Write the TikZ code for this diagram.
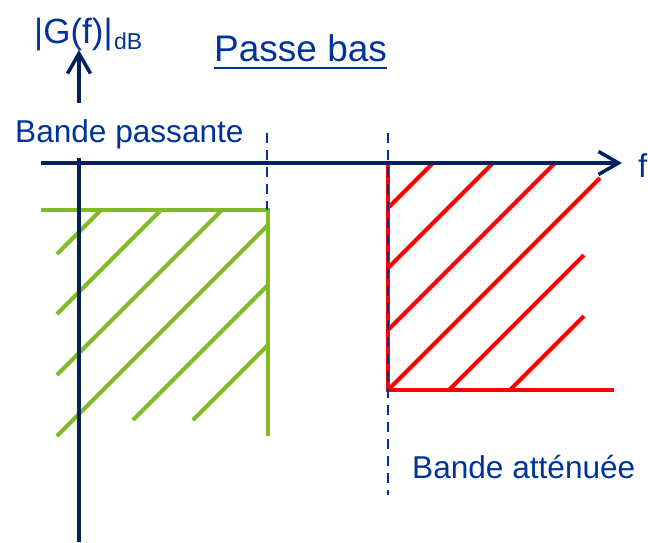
\documentclass[tikz,border=0pt]{standalone}
\usepackage{fontspec}
\setmainfont{Liberation Sans}
\usetikzlibrary{arrows.meta}
\definecolor{axisblue}{RGB}{0,32,96}
\definecolor{txtblue}{RGB}{0,51,153}
\definecolor{dashblue}{RGB}{0,51,153}
\definecolor{hgreen}{RGB}{128,186,38}
\definecolor{hred}{RGB}{255,0,0}
\begin{document}
\begin{tikzpicture}[x=1pt,y=-1pt,
  axisline/.style={draw=axisblue,line width=3.5pt},
  barb/.style={-{Straight Barb[length=20pt,width=23pt]}},
  greenline/.style={draw=hgreen,line width=4pt},
  redline/.style={draw=hred,line width=4pt},
  limline/.style={draw=dashblue,line width=2.5pt,dash pattern=on 10pt off 7pt},
  lbl/.style={text=txtblue,inner sep=0pt,anchor=base west,font=\fontsize{31.6}{38}\selectfont}]
\useasboundingbox (0,0) rectangle (648,542);
% green template (pass band)
\coordinate (g0) at (41,210);
\coordinate (g1) at (268,210);
\coordinate (g2) at (268,436);
\draw[greenline] (g0) -- (g1) -- (g2);
\draw[greenline] (57,254) -- (101,210);
\draw[greenline] (57,314) -- (161,210);
\draw[greenline] (57,375) -- (222,210);
\draw[greenline] (57,436) -- (268,225);
\draw[greenline] (133,420) -- (268,285);
\draw[greenline] (193,420) -- (268,345);
% red template (stop band)
\coordinate (r0) at (388,163);
\coordinate (r1) at (388,390);
\coordinate (r2) at (614,390);
\draw[redline] (r0) -- (r1) -- (r2);
\draw[redline] (388,208) -- (433,163);
\draw[redline] (388,268) -- (493,163);
\draw[redline] (388,330) -- (555,163);
\draw[redline] (388,390) -- (600,178);
\draw[redline] (449,390) -- (584,255);
\draw[redline] (510,390) -- (584,316);
% axes
\coordinate (ybot) at (79,542);
\coordinate (ytop) at (79,50);
\coordinate (xl) at (41,163);
\coordinate (xr) at (622,163);
\draw[axisline,barb] (ybot) -- (ytop);
\draw[axisline,barb] (xl) -- (xr);
% limit lines
\coordinate (d1a) at (267,133);
\coordinate (d1b) at (267,210);
\coordinate (d2a) at (388,133);
\coordinate (d2b) at (388,495);
\draw[limline] (d1a) -- (d1b);
\draw[limline] (d2a) -- (d2b);
% labels
\node[lbl,fill=white,text height=39pt,text depth=16pt] (bp) at (15,142) {Bande passante};
\node[lbl] (ba) at (412,478) {Bande atténuée};
\node[lbl,font=\fontsize{33}{40}\selectfont] (f) at (638,177) {f};
\node[lbl,font=\fontsize{35}{42}\selectfont] (g) at (34,43) {|G(f)|};
\node[lbl,font=\fontsize{23}{28}\selectfont] (db) at (g.base east) [xshift=1pt,yshift=-6pt] {dB};
\node[lbl,font=\fontsize{37}{44}\selectfont] (pb) at (214,61) {Passe bas};
\draw[draw=txtblue,line width=2.5pt] ([yshift=-7pt]pb.base west) -- ([yshift=-7pt]pb.base east);
\end{tikzpicture}
\end{document}
